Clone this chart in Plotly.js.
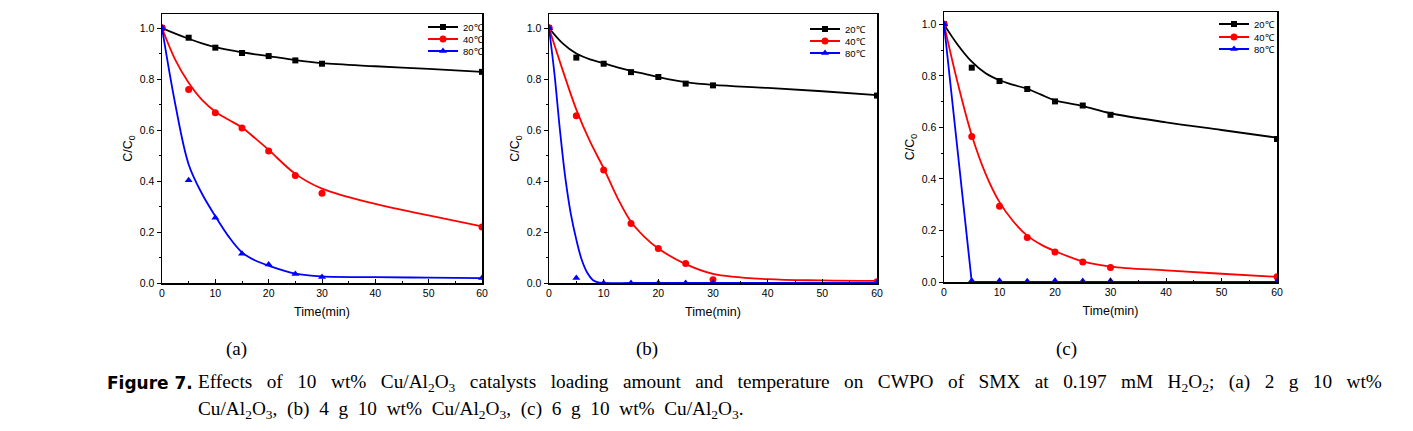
<!DOCTYPE html>
<html>
<head>
<meta charset="utf-8">
<script src="https://cdn.plot.ly/plotly-3.0.1.min.js"></script>
<style>
  html, body { margin: 0; padding: 0; background: #ffffff; }
  #chart { width: 1413px; height: 431px; }
</style>
</head>
<body>
<div id="chart"></div>
<script>
// ---------- data ----------
const time = [0, 5, 10, 15, 20, 25, 30, 60];
const seriesNames = ['20\u2103', '40\u2103', '80\u2103'];
const panelLabels = ['(a)', '(b)', '(c)'];

// measured points, panel (a) 2 g
const a20 = [1.0, 0.962, 0.923, 0.902, 0.890, 0.873, 0.860, 0.828];
const a40 = [1.0, 0.759, 0.668, 0.608, 0.518, 0.422, 0.352, 0.220];
const a80 = [1.0, 0.403, 0.256, 0.115, 0.073, 0.035, 0.024, 0.020];
// panel (b) 4 g
const b20 = [1.0, 0.884, 0.860, 0.827, 0.808, 0.782, 0.775, 0.735];
const b40 = [1.0, 0.656, 0.443, 0.233, 0.135, 0.076, 0.013, 0.005];
const b80 = [1.0, 0.020, 0.000, 0.000, 0.000, 0.000, 0.000, 0.000];
// panel (c) 6 g
const c20 = [1.0, 0.832, 0.780, 0.749, 0.701, 0.685, 0.649, 0.555];
const c40 = [1.0, 0.565, 0.294, 0.173, 0.116, 0.078, 0.056, 0.020];
const c80 = [1.0, 0.005, 0.005, 0.003, 0.005, 0.004, 0.005, 0.003];

// fitted curves
const fitTime = [0, 2.5, 5, 7.5, 10, 12.5, 15, 17.5, 20, 25, 30, 40, 50, 60];
const a20Fit = [1.0, 0.978, 0.958, 0.940, 0.925, 0.914, 0.905, 0.897, 0.890, 0.874, 0.862, 0.850, 0.840, 0.828];
const a40Fit = [1.0, 0.875, 0.785, 0.718, 0.672, 0.640, 0.610, 0.567, 0.522, 0.428, 0.370, 0.310, 0.265, 0.222];
const a80Fit = [1.0, 0.700, 0.465, 0.350, 0.262, 0.182, 0.120, 0.088, 0.068, 0.037, 0.026, 0.023, 0.021, 0.019];
const b20Fit = [1.0, 0.940, 0.900, 0.877, 0.862, 0.846, 0.832, 0.820, 0.808, 0.788, 0.777, 0.765, 0.752, 0.737];
const b40Fit = [1.0, 0.835, 0.680, 0.555, 0.450, 0.335, 0.240, 0.180, 0.135, 0.074, 0.036, 0.015, 0.010, 0.008];
const b80FitTime = [0, 1, 2, 3, 4, 5, 6, 7, 8, 9, 10, 15, 20, 30, 40, 50, 60];
const b80Fit = [1.0, 0.82, 0.60, 0.41, 0.27, 0.17, 0.09, 0.04, 0.012, 0.002, 0.0, 0.0, 0.0, 0.0, 0.0, 0.0, 0.0];
const c20Fit = [1.0, 0.920, 0.855, 0.810, 0.783, 0.765, 0.750, 0.727, 0.705, 0.683, 0.655, 0.620, 0.590, 0.560];
const c40Fit = [1.0, 0.770, 0.570, 0.420, 0.310, 0.235, 0.180, 0.145, 0.120, 0.080, 0.060, 0.045, 0.032, 0.020];
const c80FitTime = [0, 5, 60];
const c80Fit = [1.0, 0.0, 0.0];

const xTickVals = [0, 10, 20, 30, 40, 50, 60];
const yTickVals = [0.0, 0.2, 0.4, 0.6, 0.8, 1.0];

// ---------- styling ----------
const colors = ['#000000', '#ff0000', '#0000ff'];
const symbols = ['square', 'circle', 'triangle-up'];
const markerSizes = [6, 7, 7];

const panels = [
  {pts: [a20, a40, a80], fits: [[fitTime, a20Fit, 'spline'], [fitTime, a40Fit, 'spline'], [fitTime, a80Fit, 'spline']]},
  {pts: [b20, b40, b80], fits: [[fitTime, b20Fit, 'spline'], [fitTime, b40Fit, 'spline'], [b80FitTime, b80Fit, 'spline']]},
  {pts: [c20, c40, c80], fits: [[fitTime, c20Fit, 'spline'], [fitTime, c40Fit, 'spline'], [c80FitTime, c80Fit, 'linear']]}
];

const W = 1413, H = 431;
const px = v => v / W;
const py = v => 1 - v / H;
const xDomains = [[px(162), px(482)], [px(549), px(877)], [px(944), px(1277)]];
const yDomains = [[py(283), py(14)], [py(283), py(14)], [py(282), py(12)]];
const yMax = [1.055, 1.055, 1.048];
// legend box right edges and entry centres (pixels)
const legendRight = [489, 871, 1280];
const legendRows = [[27, 39, 51], [29, 41, 53], [24, 37, 49]];
const caption = [px(236), px(647), px(1066)];

const traces = [];
const layout = {
  width: W, height: H,
  margin: {l: 0, r: 0, t: 0, b: 0},
  paper_bgcolor: '#ffffff',
  plot_bgcolor: '#ffffff',
  font: {family: 'Liberation Sans, Arial, sans-serif', color: '#000000'},
  showlegend: true,
  annotations: [],
  shapes: []
};

panels.forEach((p, i) => {
  const sfx = i === 0 ? '' : String(i + 1);
  const xa = 'x' + sfx, ya = 'y' + sfx;
  for (let s = 0; s < 3; s++) {
    const idx = i * 3 + s;
    const legendId = idx === 0 ? 'legend' : 'legend' + (idx + 1);
    const [fx, fy, shape] = p.fits[s];
    // fitted curve (carries the legend entry; only its first marker, at t=0, is shown)
    traces.push({
      type: 'scatter', mode: 'lines+markers',
      x: fx, y: fy, xaxis: xa, yaxis: ya,
      name: seriesNames[s], legend: legendId,
      line: {color: colors[s], width: 1.8, shape: shape, smoothing: 1},
      marker: {symbol: symbols[s], size: markerSizes[s],
               color: fx.map((_, k) => k === 0 ? colors[s] : 'rgba(0,0,0,0)'),
               line: {width: 0}},
      hoverinfo: 'skip'
    });
    // measured points
    traces.push({
      type: 'scatter', mode: 'markers',
      x: time, y: p.pts[s], xaxis: xa, yaxis: ya,
      name: seriesNames[s], showlegend: false,
      marker: {symbol: symbols[s], size: markerSizes[s], color: colors[s], line: {width: 0}}
    });
    layout[legendId] = {
      x: px(legendRight[i]), y: py(legendRows[i][s]), xanchor: 'right', yanchor: 'middle',
      bgcolor: 'rgba(0,0,0,0)', borderwidth: 0,
      font: {size: 9.5, family: 'Liberation Sans, Arial, sans-serif'},
      itemwidth: 30
    };
  }

  layout['xaxis' + sfx] = {
    domain: xDomains[i], anchor: ya, range: [0, 60],
    tickmode: 'array', tickvals: xTickVals, ticktext: xTickVals.map(String),
    ticks: 'inside', ticklen: 4, tickwidth: 1, tickcolor: '#000',
    minor: {dtick: 5, ticks: 'inside', ticklen: 2, tickwidth: 1, tickcolor: '#000'},
    showline: true, linecolor: '#000', linewidth: 1.5, mirror: true,
    showgrid: false, zeroline: false,
    tickfont: {size: 10.5, family: 'Liberation Sans, Arial, sans-serif'},
    title: {text: 'Time(min)', standoff: 9, font: {size: 12.5, family: 'Liberation Sans, Arial, sans-serif'}}
  };
  layout['yaxis' + sfx] = {
    domain: yDomains[i], anchor: xa, range: [0, yMax[i]],
    tickmode: 'array', tickvals: yTickVals, ticktext: yTickVals.map(v => v.toFixed(1)),
    ticks: 'outside', ticklen: 4, tickwidth: 1, tickcolor: '#000',
    minor: {dtick: 0.1, tick0: 0, ticks: 'outside', ticklen: 2, tickwidth: 1, tickcolor: '#000'},
    showline: true, linecolor: '#000', linewidth: 1.5, mirror: true,
    showgrid: false, zeroline: false,
    tickfont: {size: 10.5, family: 'Liberation Sans, Arial, sans-serif'},
    title: {text: 'C/C<sub>0</sub>', standoff: 4, font: {size: 12.5, family: 'Liberation Sans, Arial, sans-serif'}}
  };
  layout.annotations.push({
    xref: 'paper', yref: 'paper', x: caption[i], y: py(349),
    xanchor: 'center', yanchor: 'middle', showarrow: false,
    text: panelLabels[i],
    font: {size: 19, family: 'Liberation Serif, Times New Roman, serif'}
  });
});

// caption (justified in the reference: widen word gaps of the first line)
const captionLine1 = 'Effects of 10 wt% Cu/Al<sub>2</sub>O<sub>3</sub> catalysts loading amount and temperature on CWPO of SMX at 0.197 mM H<sub>2</sub>O<sub>2</sub>; (a) 2 g 10 wt%';
const captionLine2 = 'Cu/Al<sub>2</sub>O<sub>3</sub>, (b) 4 g 10 wt% Cu/Al<sub>2</sub>O<sub>3</sub>, (c) 6 g 10 wt% Cu/Al<sub>2</sub>O<sub>3</sub>.';

layout.annotations.push({
  xref: 'paper', yref: 'paper', x: px(105), y: py(383),
  xanchor: 'left', yanchor: 'middle', showarrow: false,
  text: '<b>Figure 7.</b>',
  font: {size: 17, family: 'DejaVu Sans, Verdana, sans-serif'}
});
layout.annotations.push({
  xref: 'paper', yref: 'paper', x: px(196), y: py(383),
  xanchor: 'left', yanchor: 'middle', showarrow: false,
  text: captionLine1.split(' ').join(' &nbsp;&nbsp;'),
  font: {size: 19.3, family: 'Liberation Serif, Times New Roman, serif'}
});
layout.annotations.push({
  xref: 'paper', yref: 'paper', x: px(196), y: py(410),
  xanchor: 'left', yanchor: 'middle', showarrow: false,
  text: captionLine2.split(' ').join(' &nbsp;'),
  font: {size: 19.3, family: 'Liberation Serif, Times New Roman, serif'}
});

Plotly.newPlot('chart', traces, layout, {displayModeBar: false, staticPlot: true});
</script>
</body>
</html>
